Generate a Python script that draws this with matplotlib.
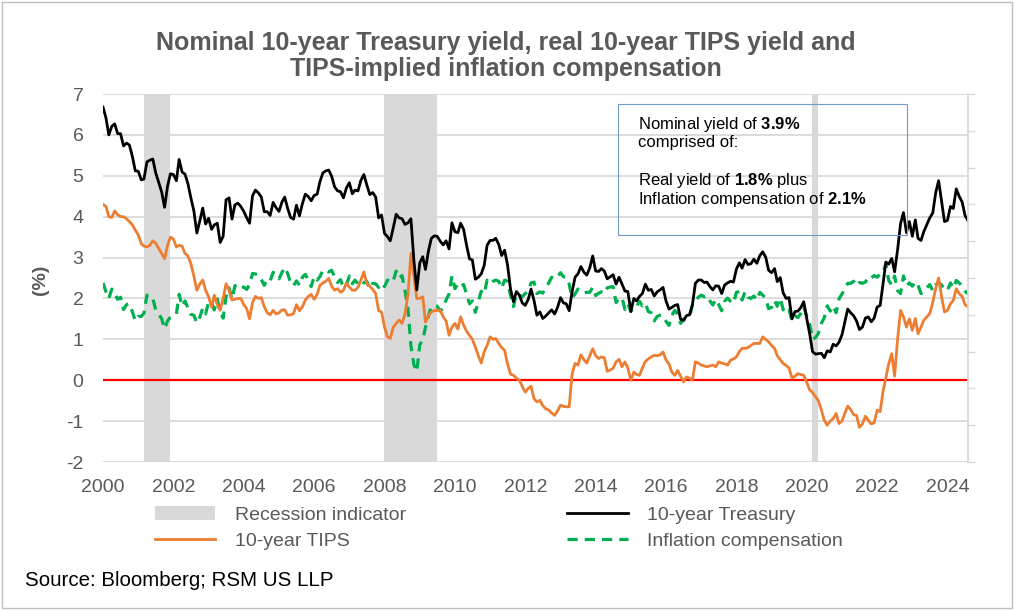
import matplotlib
matplotlib.use("Agg")
import matplotlib.pyplot as plt
import matplotlib.dates as mdates
from matplotlib.patches import Patch, Rectangle
from matplotlib.lines import Line2D
import pandas as pd

plt.rcParams['font.family'] = ['Liberation Sans', 'DejaVu Sans']
plt.rcParams['mathtext.fontset'] = 'custom'
plt.rcParams['mathtext.rm'] = 'Liberation Sans'
plt.rcParams['mathtext.bf'] = 'Liberation Sans:bold'
plt.rcParams['axes.unicode_minus'] = False

# month-end values, Jan 2000 - Aug 2024 (%)
treasury_10y = [
    6.68, 6.41, 6.00, 6.21, 6.27, 6.03, 6.03, 5.73, 5.80, 5.75, 5.47, 5.12,  # 2000
    5.11, 4.90, 4.92, 5.34, 5.38, 5.41, 5.07, 4.84, 4.60, 4.23, 4.75, 5.05,  # 2001
    5.03, 4.88, 5.40, 5.09, 5.04, 4.80, 4.46, 4.14, 3.60, 3.89, 4.21, 3.82,  # 2002
    3.96, 3.69, 3.80, 3.84, 3.37, 3.52, 4.41, 4.46, 3.94, 4.29, 4.33, 4.25,  # 2003
    4.13, 3.97, 3.84, 4.51, 4.65, 4.58, 4.48, 4.12, 4.12, 4.03, 4.35, 4.22,  # 2004
    4.13, 4.36, 4.48, 4.20, 3.98, 3.94, 4.28, 4.02, 4.32, 4.55, 4.49, 4.39,  # 2005
    4.52, 4.55, 4.85, 5.07, 5.12, 5.14, 4.99, 4.73, 4.63, 4.61, 4.46, 4.70,  # 2006
    4.83, 4.56, 4.65, 4.63, 4.89, 5.03, 4.78, 4.54, 4.59, 4.48, 3.97, 4.04,  # 2007
    3.59, 3.51, 3.41, 3.73, 4.06, 3.97, 3.95, 3.81, 3.85, 3.95, 2.93, 2.21,  # 2008
    2.87, 3.02, 2.71, 3.16, 3.47, 3.53, 3.52, 3.40, 3.31, 3.41, 3.21, 3.85,  # 2009
    3.63, 3.61, 3.84, 3.69, 3.31, 2.97, 2.94, 2.47, 2.52, 2.60, 2.81, 3.30,  # 2010
    3.42, 3.42, 3.47, 3.32, 3.05, 3.18, 2.82, 2.23, 1.92, 2.17, 2.08, 1.89,  # 2011
    1.83, 1.98, 2.23, 1.95, 1.59, 1.67, 1.51, 1.57, 1.65, 1.72, 1.62, 1.78,  # 2012
    2.02, 1.89, 1.87, 1.70, 2.16, 2.52, 2.60, 2.78, 2.64, 2.57, 2.75, 3.04,  # 2013
    2.67, 2.66, 2.73, 2.67, 2.48, 2.53, 2.58, 2.35, 2.52, 2.35, 2.18, 2.17,  # 2014
    1.68, 2.00, 1.94, 2.05, 2.12, 2.35, 2.20, 2.22, 2.06, 2.16, 2.21, 2.27,  # 2015
    1.94, 1.74, 1.78, 1.83, 1.85, 1.49, 1.46, 1.58, 1.60, 1.84, 2.37, 2.45,  # 2016
    2.45, 2.39, 2.40, 2.29, 2.21, 2.31, 2.30, 2.12, 2.33, 2.38, 2.42, 2.40,  # 2017
    2.72, 2.87, 2.74, 2.95, 2.83, 2.85, 2.96, 2.86, 3.05, 3.14, 3.01, 2.69,  # 2018
    2.63, 2.73, 2.41, 2.51, 2.14, 2.00, 2.02, 1.50, 1.68, 1.69, 1.78, 1.92,  # 2019
    1.51, 1.13, 0.70, 0.64, 0.65, 0.66, 0.55, 0.72, 0.69, 0.88, 0.84, 0.93,  # 2020
    1.11, 1.44, 1.74, 1.65, 1.58, 1.45, 1.24, 1.30, 1.52, 1.55, 1.43, 1.52,  # 2021
    1.79, 1.83, 2.32, 2.89, 2.84, 2.98, 2.65, 3.19, 3.83, 4.10, 3.61, 3.88,  # 2022
    3.52, 3.92, 3.47, 3.42, 3.64, 3.81, 3.97, 4.09, 4.59, 4.88, 4.37, 3.88,  # 2023
    3.91, 4.25, 4.20, 4.68, 4.50, 4.36, 4.03, 3.90,                          # 2024
]

tips_10y = [
    4.30, 4.25, 4.00, 3.98, 4.14, 4.05, 4.00, 4.00, 3.95, 3.88, 3.80, 3.67,
    3.55, 3.34, 3.28, 3.26, 3.30, 3.41, 3.35, 3.22, 3.10, 2.97, 3.30, 3.50,
    3.45, 3.26, 3.30, 3.28, 3.10, 3.04, 2.85, 2.55, 2.20, 2.35, 2.45, 2.20,
    2.04, 1.79, 2.08, 1.85, 1.71, 2.00, 2.36, 2.20, 1.96, 1.98, 2.00, 2.00,
    1.85, 1.75, 1.50, 1.90, 2.05, 2.00, 2.02, 1.80, 1.65, 1.60, 1.71, 1.62,
    1.65, 1.72, 1.72, 1.59, 1.60, 1.63, 1.85, 1.70, 1.80, 1.96, 2.05, 2.10,
    1.98, 2.10, 2.32, 2.38, 2.42, 2.49, 2.30, 2.20, 2.24, 2.15, 2.20, 2.38,
    2.28, 2.20, 2.20, 2.27, 2.45, 2.65, 2.36, 2.30, 2.22, 2.12, 1.70, 1.67,
    1.30, 1.06, 1.02, 1.30, 1.39, 1.47, 1.39, 1.62, 2.10, 3.10, 2.55, 2.00,
    2.00, 2.04, 1.42, 1.58, 1.67, 1.70, 1.71, 1.71, 1.55, 1.45, 1.10, 1.30,
    1.39, 1.25, 1.55, 1.35, 1.20, 1.10, 1.00, 0.81, 0.60, 0.42, 0.70, 0.85,
    1.06, 1.00, 1.02, 0.90, 0.80, 0.73, 0.40, 0.15, 0.12, 0.05, 0.00, -0.15,
    -0.29, -0.20, -0.15, -0.45, -0.53, -0.49, -0.62, -0.70, -0.73, -0.80, -0.86, -0.75,
    -0.61, -0.64, -0.65, -0.65, 0.15, 0.41, 0.37, 0.62, 0.50, 0.42, 0.60, 0.77,
    0.60, 0.53, 0.57, 0.55, 0.22, 0.25, 0.29, 0.45, 0.51, 0.33, 0.45, 0.30,
    0.00, 0.20, 0.14, 0.12, 0.30, 0.46, 0.52, 0.57, 0.61, 0.60, 0.62, 0.69,
    0.50, 0.40, 0.20, 0.12, 0.24, 0.10, -0.04, 0.08, 0.05, 0.00, 0.45, 0.42,
    0.37, 0.35, 0.33, 0.35, 0.37, 0.33, 0.45, 0.42, 0.40, 0.37, 0.49, 0.52,
    0.57, 0.70, 0.78, 0.78, 0.80, 0.85, 0.90, 0.90, 0.90, 1.06, 1.00, 0.94,
    0.85, 0.78, 0.60, 0.50, 0.41, 0.36, 0.30, 0.05, 0.10, 0.16, 0.14, 0.12,
    -0.05, -0.24, -0.30, -0.40, -0.50, -0.73, -0.98, -1.10, -1.00, -0.94, -0.81, -1.06,
    -1.00, -0.80, -0.63, -0.72, -0.84, -0.86, -1.15, -1.07, -0.88, -0.98, -1.07, -1.04,
    -0.73, -0.77, -0.30, 0.05, 0.40, 0.65, 0.10, 1.00, 1.71, 1.55, 1.30, 1.50,
    1.22, 1.51, 1.14, 1.30, 1.47, 1.55, 1.63, 1.90, 2.25, 2.50, 2.04, 1.67,
    1.71, 1.87, 1.95, 2.24, 2.12, 2.05, 1.85, 1.79,
]

inflation_comp = [
    2.38, 2.16, 2.00, 2.23, 2.13, 1.98, 2.03, 1.73, 1.85, 1.87, 1.67, 1.45,
    1.56, 1.56, 1.64, 2.08, 2.08, 2.00, 1.72, 1.62, 1.50, 1.26, 1.45, 1.55,
    1.58, 1.62, 2.10, 1.81, 1.94, 1.76, 1.61, 1.59, 1.40, 1.54, 1.76, 1.62,
    1.92, 1.90, 1.72, 1.99, 1.66, 1.52, 2.05, 2.26, 1.98, 2.31, 2.33, 2.25,
    2.28, 2.22, 2.34, 2.61, 2.60, 2.58, 2.46, 2.32, 2.47, 2.43, 2.64, 2.60,
    2.48, 2.64, 2.76, 2.61, 2.38, 2.31, 2.43, 2.32, 2.52, 2.59, 2.44, 2.29,
    2.54, 2.45, 2.53, 2.69, 2.70, 2.65, 2.69, 2.53, 2.39, 2.46, 2.26, 2.32,
    2.55, 2.36, 2.45, 2.36, 2.44, 2.38, 2.42, 2.24, 2.37, 2.36, 2.27, 2.37,
    2.29, 2.45, 2.39, 2.43, 2.67, 2.50, 2.56, 2.19, 1.75, 0.85, 0.38, 0.21,
    0.87, 0.98, 1.29, 1.58, 1.80, 1.83, 1.81, 1.69, 1.76, 1.96, 2.11, 2.55,
    2.24, 2.36, 2.29, 2.34, 2.11, 1.87, 1.94, 1.66, 1.92, 2.18, 2.11, 2.45,
    2.36, 2.42, 2.45, 2.42, 2.25, 2.45, 2.42, 2.08, 1.80, 2.12, 2.08, 2.04,
    2.12, 2.18, 2.38, 2.40, 2.12, 2.16, 2.13, 2.27, 2.38, 2.52, 2.48, 2.53,
    2.63, 2.53, 2.52, 2.35, 2.01, 2.11, 2.23, 2.16, 2.14, 2.15, 2.15, 2.27,
    2.07, 2.13, 2.16, 2.12, 2.26, 2.28, 2.29, 1.90, 2.01, 2.02, 1.73, 1.87,
    1.68, 1.80, 1.80, 1.93, 1.82, 1.89, 1.68, 1.65, 1.45, 1.56, 1.59, 1.58,
    1.44, 1.34, 1.58, 1.71, 1.61, 1.39, 1.50, 1.50, 1.55, 1.84, 1.92, 2.03,
    2.08, 2.04, 2.07, 1.94, 1.84, 1.98, 1.85, 1.70, 1.93, 2.01, 1.93, 1.88,
    2.15, 2.17, 1.96, 2.17, 2.03, 2.00, 2.06, 1.96, 2.15, 2.08, 2.01, 1.75,
    1.78, 1.95, 1.81, 2.01, 1.73, 1.64, 1.72, 1.45, 1.58, 1.53, 1.64, 1.80,
    1.56, 1.37, 1.00, 1.04, 1.15, 1.39, 1.53, 1.82, 1.69, 1.82, 1.65, 1.99,
    2.11, 2.24, 2.37, 2.37, 2.42, 2.31, 2.39, 2.37, 2.40, 2.53, 2.50, 2.56,
    2.52, 2.60, 2.62, 2.84, 2.44, 2.33, 2.55, 2.19, 2.12, 2.55, 2.31, 2.38,
    2.30, 2.41, 2.33, 2.12, 2.17, 2.26, 2.34, 2.19, 2.34, 2.38, 2.33, 2.21,
    2.20, 2.38, 2.25, 2.44, 2.38, 2.31, 2.18, 2.11,
]

recessions = [("2001-03-01", "2001-11-30"),
              ("2007-12-31", "2009-06-30"),
              ("2020-02-29", "2020-04-30")]

dates = pd.date_range("2000-01-01", periods=len(treasury_10y), freq="MS")

GRAY_TXT = "#595959"
GRID = "#d9d9d9"

fig = plt.figure(figsize=(10.15, 6.10), dpi=100)
ax = fig.add_axes([0.1015, 0.2426, 0.8522, 0.6033])

for start, end in recessions:
    ax.axvspan(pd.Timestamp(start), pd.Timestamp(end), color=GRID, lw=0, zorder=1)

ax.axhline(0, color="#ff0000", lw=1.6, zorder=2)
ax.plot(dates, inflation_comp, color="#00b050", lw=2.3, ls=(0, (3.2, 2.2)), zorder=3)
ax.plot(dates, tips_10y, color="#ed7d31", lw=2.0, zorder=4)
ax.plot(dates, treasury_10y, color="black", lw=2.0, zorder=5)

ax.set_ylim(-2, 7)
ax.set_yticks(range(-2, 8))
ax.set_xlim(dates[0], dates[-1])
ax.xaxis.set_major_locator(mdates.YearLocator(2))
ax.xaxis.set_major_formatter(mdates.DateFormatter("%Y"))
ax.grid(axis="y", color=GRID, lw=1.3)
ax.set_axisbelow(True)
for s in ax.spines.values():
    s.set_visible(False)
ax.tick_params(axis="both", length=0, labelsize=14, labelcolor=GRAY_TXT)
ax.tick_params(axis="y", pad=14)
ax.tick_params(axis="x", pad=12)

# empty secondary axis on the right
ax2 = ax.twinx()
ax2.set_ylim(0, 10)
ax2.set_yticks(range(11))
ax2.tick_params(axis="y", length=5, width=1, color=GRID, labelright=False)
for k, s in ax2.spines.items():
    s.set_visible(k == "right")
ax2.spines["right"].set_color(GRID)
ax2.spines["right"].set_linewidth(1.3)

# annotation box
ax.add_patch(Rectangle((0.595, 0.617), 0.334, 0.356, transform=ax.transAxes,
                       fill=False, edgecolor="#6f9bc9", lw=0.8, zorder=6))
box_lines = [(124, r"Nominal yield of $\mathbf{3.9\%}$"),
             (143, "comprised of:"),
             (181, r"Real yield of $\mathbf{1.8\%}$ plus"),
             (200, r"Inflation compensation of $\mathbf{2.1\%}$")]
for ypix, txt in box_lines:
    fig.text(638 / 1015, 1 - ypix / 610, txt, fontsize=12, va="center", ha="left")

fig.text(0.498, 1 - 56 / 610,
         "Nominal 10-year Treasury yield, real 10-year TIPS yield and\nTIPS-implied inflation compensation",
         ha="center", va="center", fontsize=18, fontweight="bold", color=GRAY_TXT,
         linespacing=1.12)
fig.text(40 / 1015, 1 - 280 / 610, "(%)", rotation=90, ha="center", va="center",
         fontsize=14, fontweight="bold", color=GRAY_TXT)

handles = [Patch(facecolor=GRID, edgecolor="none"),
           Line2D([], [], color="#ed7d31", lw=2.0),
           Line2D([], [], color="black", lw=2.0),
           Line2D([], [], color="#00b050", lw=2.3, ls=(0, (3.2, 2.2)))]
labels = ["Recession indicator", "10-year TIPS", "10-year Treasury", "Inflation compensation"]
leg = fig.legend(handles, labels, ncol=2, loc="upper left",
                 bbox_to_anchor=(155 / 1015, 1 - 506 / 610), frameon=False,
                 fontsize=14, handlelength=3.1, handletextpad=1.0,
                 columnspacing=8.3, labelspacing=0.45, borderpad=0, borderaxespad=0)
for t in leg.get_texts():
    t.set_color(GRAY_TXT)

fig.text(25 / 1015, 1 - 581 / 610, "Source: Bloomberg; RSM US LLP", fontsize=14.8,
         ha="left", va="center", color="black")

fig.patches.append(Rectangle((0.002, 0.003), 0.995, 0.993, transform=fig.transFigure,
                             fill=False, edgecolor="#bfbfbf", lw=1))

fig.savefig("out.png", dpi=100)
